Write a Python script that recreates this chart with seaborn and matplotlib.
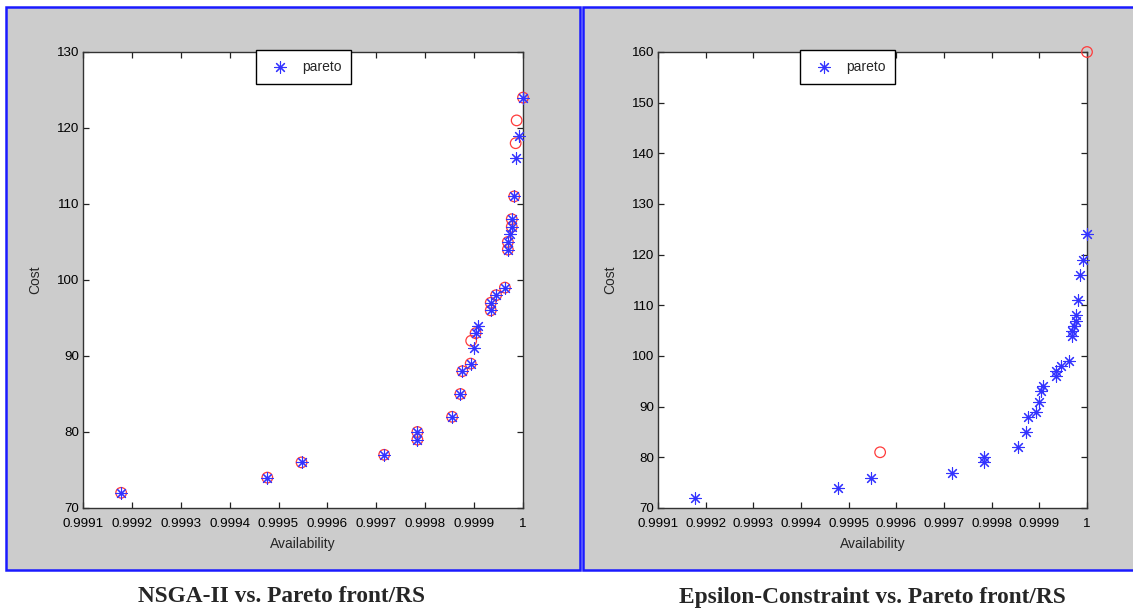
import numpy as np
import pandas as pd
import matplotlib
matplotlib.use("Agg")
import matplotlib.pyplot as plt
from matplotlib.patches import Rectangle
from matplotlib.ticker import FuncFormatter
import seaborn as sns

# pareto front (blue asterisks), same in both panels
pareto_avail = [0.999178, 0.999477, 0.999547, 0.999716, 0.999784, 0.999784, 0.999855,
                0.999872, 0.999876, 0.999893, 0.999899, 0.999903, 0.999908, 0.999934,
                0.999934, 0.999945, 0.999963, 0.999969, 0.999969, 0.999973, 0.999977,
                0.999977, 0.999982, 0.999986, 0.999992, 1.0]
pareto_cost = [72, 74, 76, 77, 79, 80, 82, 85, 88, 89, 91, 93, 94, 96, 97, 98, 99,
               104, 105, 106, 107, 108, 111, 116, 119, 124]

# NSGA-II solutions (red circles, left panel)
nsga_avail = [0.999178, 0.999477, 0.999547, 0.999716, 0.999784, 0.999784, 0.999855,
              0.999872, 0.999876, 0.999893, 0.999894, 0.999903, 0.999934, 0.999934,
              0.999945, 0.999963, 0.999969, 0.999969, 0.999977, 0.999977, 0.999982,
              0.999985, 0.999987, 1.0]
nsga_cost = [72, 74, 76, 77, 79, 80, 82, 85, 88, 89, 92, 93, 96, 97, 98, 99, 104, 105,
             107, 108, 111, 118, 121, 124]

# epsilon-constraint solutions (red circles, right panel)
eps_avail = [0.999566, 1.0]
eps_cost = [81, 160]

x_ticks = [0.9991, 0.9992, 0.9993, 0.9994, 0.9995, 0.9996, 0.9997, 0.9998, 0.9999, 1.0]
left_yticks = [70, 80, 90, 100, 110, 120, 130]
right_yticks = [70, 80, 90, 100, 110, 120, 130, 140, 150, 160]

captions = ["NSGA-II vs. Pareto front/RS", "Epsilon-Constraint vs. Pareto front/RS"]

sns.set_style("ticks")
plt.rcParams["font.family"] = ["Liberation Sans", "DejaVu Sans"]

W, H = 1133, 611
fig = plt.figure(figsize=(W / 100, H / 100), dpi=100)
fig.patch.set_facecolor("white")

# grey figure windows with blue frame
for x0, x1 in [(6, 580), (583, 1145)]:
    fig.patches.append(Rectangle((x0 / W, 1 - 570 / H), (x1 - x0) / W, (570 - 7) / H,
                                 transform=fig.transFigure, facecolor="#cccccc",
                                 edgecolor="#1a1aff", linewidth=1.8, zorder=-1))

ax1 = fig.add_axes([83 / W, 1 - 508 / H, 440 / W, 456 / H])
ax2 = fig.add_axes([658 / W, 1 - 508 / H, 429 / W, 456 / H])

star = (8, 2, 0)
pareto_df = pd.DataFrame({"Availability": pareto_avail, "Cost": pareto_cost})
nsga_df = pd.DataFrame({"Availability": nsga_avail, "Cost": nsga_cost})
eps_df = pd.DataFrame({"Availability": eps_avail, "Cost": eps_cost})

for ax, other, yticks, leg_x, cap_x, cap in [(ax1, nsga_df, left_yticks, 0.393, 281, captions[0]),
                                              (ax2, eps_df, right_yticks, 0.331, 872, captions[1])]:
    ax.set_facecolor("white")
    sns.scatterplot(data=other, x="Availability", y="Cost", ax=ax, marker="o", s=58,
                    color="#ff3b3b", facecolor="none", edgecolor="#ff3b3b",
                    linewidth=0.9, clip_on=False, zorder=3, legend=False)
    sns.scatterplot(data=pareto_df, x="Availability", y="Cost", ax=ax, marker=star, s=70,
                    color="#3333ff", linewidth=0.8, clip_on=False, zorder=4,
                    label="pareto")
    ax.set_xlim(x_ticks[0], x_ticks[-1])
    ax.set_ylim(yticks[0], yticks[-1])
    ax.set_xticks(x_ticks)
    ax.set_yticks(yticks)
    ax.xaxis.set_major_formatter(FuncFormatter(lambda v, p: "%g" % round(v, 4)))
    ax.tick_params(direction="in", length=4, width=0.9, top=True, right=True,
                   labelsize=9.6, colors="#222222", labelcolor="black")
    ax.tick_params(axis="x", pad=7)
    ax.tick_params(axis="y", pad=3)
    for sp in ax.spines.values():
        sp.set_visible(True)
        sp.set_color("#333333")
        sp.set_linewidth(1.0)
    ax.set_xlabel("Availability", fontsize=10, labelpad=5)
    ax.set_ylabel("Cost", fontsize=10, labelpad=10)
    leg = ax.legend(loc="upper left", bbox_to_anchor=(leg_x, 1.004), borderaxespad=0,
                    frameon=True, fancybox=False, fontsize=10, handlelength=2.0,
                    handletextpad=0.6, borderpad=0.7, markerscale=1.0)
    leg.get_frame().set_edgecolor("black")
    leg.get_frame().set_linewidth(1.0)
    leg.get_frame().set_facecolor("white")
    leg.get_frame().set_alpha(1)
    fig.text(cap_x / W, 1 - 597 / H, cap, ha="center", va="center", fontsize=16.8,
             fontweight="bold", family="Liberation Serif")

fig.savefig("out.png", dpi=100, facecolor="white")
